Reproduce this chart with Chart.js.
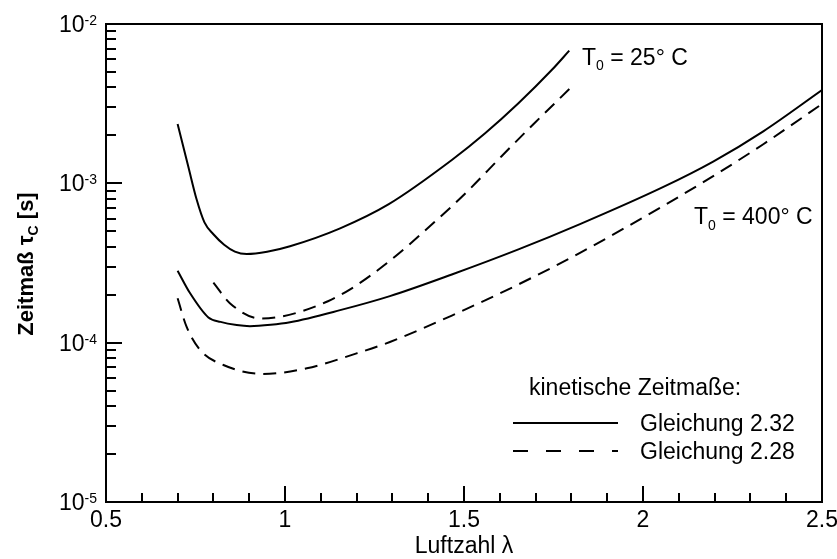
<!DOCTYPE html>
<html>
<head>
<meta charset="utf-8">
<script src="https://cdn.jsdelivr.net/npm/chart.js@4.4.1/dist/chart.umd.min.js"></script>
<style>
  html, body { margin: 0; padding: 0; background: #fff; }
  canvas { display: block; }
</style>
</head>
<body>
<canvas id="chart" width="837" height="559"></canvas>
<script>
// T0 = 25 °C, Gleichung 2.32 (durchgezogen)
const lambda25Gl232 = [0.70, 0.73, 0.753, 0.775, 0.80, 0.83, 0.86, 0.893, 0.95, 1.014, 1.154, 1.29, 1.466, 1.559, 1.652, 1.745, 1.794];
const tau25Gl232    = [2.36e-3, 1.27e-3, 7.94e-4, 5.69e-4, 4.79e-4, 4.12e-4, 3.73e-4, 3.60e-4, 3.72e-4, 4.03e-4, 5.22e-4, 7.4e-4, 1.40e-3, 2.06e-3, 3.18e-3, 5.14e-3, 6.8e-3];

// T0 = 25 °C, Gleichung 2.28 (gestrichelt)
const lambda25Gl228 = [0.80, 0.846, 0.93, 0.99, 1.051, 1.12, 1.182, 1.285, 1.419, 1.512, 1.605, 1.698, 1.796];
const tau25Gl228    = [2.38e-4, 1.77e-4, 1.42e-4, 1.46e-4, 1.585e-4, 1.82e-4, 2.16e-4, 3.16e-4, 5.75e-4, 9.02e-4, 1.48e-3, 2.40e-3, 3.94e-3];

// T0 = 400 °C, Gleichung 2.32
const lambda400Gl232 = [0.70, 0.735, 0.786, 0.82, 0.865, 0.902, 0.96, 1.014, 1.154, 1.293, 1.466, 1.652, 1.824, 2.057, 2.196, 2.336, 2.5];
const tau400Gl232    = [2.83e-4, 2.04e-4, 1.44e-4, 1.35e-4, 1.29e-4, 1.27e-4, 1.294e-4, 1.343e-4, 1.60e-4, 1.96e-4, 2.68e-4, 3.85e-4, 5.55e-4, 9.5e-4, 1.37e-3, 2.12e-3, 3.85e-3];

// T0 = 400 °C, Gleichung 2.28
const lambda400Gl228 = [0.70, 0.725, 0.763, 0.828, 0.939, 1.061, 1.20, 1.293, 1.466, 1.652, 1.824, 2.057, 2.196, 2.336, 2.5];
const tau400Gl228    = [1.90e-4, 1.26e-4, 9.0e-5, 7.24e-5, 6.36e-5, 6.9e-5, 8.57e-5, 1.01e-4, 1.48e-4, 2.32e-4, 3.66e-4, 7.23e-4, 1.11e-3, 1.76e-3, 3.15e-3];

// Achsen
const xTickValues = [0.5, 1, 1.5, 2, 2.5];
const xTickLabels = ['0.5', '1', '1.5', '2', '2.5'];
const yDecades = [-5, -4, -3, -2];

const FONT = '"Liberation Sans", Arial, sans-serif';
const DASH = [13, 8];

const toPoints = (xs, ys) => xs.map((x, i) => ({ x, y: ys[i] }));

const lineStyle = (dashed) => ({
  borderColor: '#000',
  borderWidth: 2,
  borderDash: dashed ? DASH : [],
  pointRadius: 0,
  fill: false,
  cubicInterpolationMode: 'monotone',
});

// Text mit Hoch-/Tiefstellung zeichnen: parts = [{t, size, dy, bold}]
function drawRich(c, parts, x, y) {
  let cx = x;
  for (const p of parts) {
    c.font = `${p.bold ? 'bold ' : ''}${p.size}px ${FONT}`;
    c.fillText(p.t, cx, y + (p.dy || 0));
    cx += c.measureText(p.t).width;
  }
  return cx - x;
}
function richWidth(c, parts) {
  let w = 0;
  for (const p of parts) {
    c.font = `${p.bold ? 'bold ' : ''}${p.size}px ${FONT}`;
    w += c.measureText(p.t).width;
  }
  return w;
}

const framePlugin = {
  id: 'frameAndLabels',
  beforeDraw: (chart) => {
    const c = chart.ctx;
    c.save();
    c.fillStyle = '#fff';
    c.fillRect(0, 0, chart.width, chart.height);
    c.restore();
  },
  afterDraw: (chart) => {
    const c = chart.ctx;
    const { left, right, top, bottom } = chart.chartArea;
    const xs = chart.scales.x;
    const ys = chart.scales.y;

    c.save();
    c.strokeStyle = '#000';
    c.fillStyle = '#000';
    c.lineWidth = 2;
    c.setLineDash([]);
    c.strokeRect(left, top, right - left, bottom - top);

    // y-Ticks (nach innen)
    c.beginPath();
    yDecades.forEach((e) => {
      const yMaj = Math.round(ys.getPixelForValue(Math.pow(10, e)));
      c.moveTo(left, yMaj); c.lineTo(left + 16, yMaj);
      if (e < yDecades[yDecades.length - 1]) {
        for (let k = 2; k <= 9; k++) {
          const yMin = Math.round(ys.getPixelForValue(k * Math.pow(10, e)));
          c.moveTo(left, yMin); c.lineTo(left + 10, yMin);
        }
      }
    });
    // x-Ticks
    const xMin = xTickValues[0], xMax = xTickValues[xTickValues.length - 1];
    for (let i = 0; i <= Math.round((xMax - xMin) / 0.1); i++) {
      const v = xMin + i * 0.1;
      const px = Math.round(xs.getPixelForValue(v));
      const major = xTickValues.some(t => Math.abs(t - v) < 1e-6);
      c.moveTo(px, bottom); c.lineTo(px, bottom - (major ? 16 : 9));
    }
    c.stroke();

    // y-Beschriftung 10^n
    c.textBaseline = 'alphabetic';
    c.textAlign = 'left';
    yDecades.forEach((e) => {
      const y = ys.getPixelForValue(Math.pow(10, e));
      const parts = [{ t: '10', size: 23, dy: 8 }, { t: String(e), size: 14, dy: 1 }];
      const w = richWidth(c, parts);
      drawRich(c, parts, left - 9 - w, y);
    });

    // x-Beschriftung
    c.font = `23px ${FONT}`;
    c.textAlign = 'center';
    xTickValues.forEach((v, i) => {
      c.fillText(xTickLabels[i], xs.getPixelForValue(v), bottom + 25);
    });
    c.fillText('Luftzahl λ', (left + right) / 2, 553);

    // y-Achsentitel
    c.save();
    c.translate(33, (top + bottom) / 2 + 1);
    c.rotate(-Math.PI / 2);
    c.textAlign = 'left';
    const title = [
      { t: 'Zeitmaß τ', size: 22, bold: true },
      { t: 'C', size: 14, dy: 5, bold: true },
      { t: ' [s]', size: 22, bold: true },
    ];
    drawRich(c, title, -richWidth(c, title) / 2, 0);
    c.restore();

    // Kurvenbeschriftungen
    c.textAlign = 'left';
    drawRich(c, [{ t: 'T', size: 23 }, { t: '0', size: 14, dy: 5 }, { t: ' = 25° C', size: 23 }], 582, 65);
    drawRich(c, [{ t: 'T', size: 23 }, { t: '0', size: 14, dy: 6 }, { t: ' = 400° C', size: 23 }], 694, 224);

    // Legende
    c.font = `23px ${FONT}`;
    c.fillText('kinetische Zeitmaße:', 529, 395);
    c.fillText('Gleichung 2.32', 640, 431);
    c.fillText('Gleichung 2.28', 640, 459);
    c.beginPath();
    c.moveTo(513, 423); c.lineTo(618, 423);
    c.stroke();
    c.setLineDash([15, 18]);
    c.beginPath();
    c.moveTo(513, 451); c.lineTo(618, 451);
    c.stroke();

    c.restore();
  }
};

new Chart(document.getElementById('chart').getContext('2d'), {
  type: 'line',
  data: {
    datasets: [
      { label: 'T0 = 25° C, Gleichung 2.32', data: toPoints(lambda25Gl232, tau25Gl232), ...lineStyle(false) },
      { label: 'T0 = 25° C, Gleichung 2.28', data: toPoints(lambda25Gl228, tau25Gl228), ...lineStyle(true) },
      { label: 'T0 = 400° C, Gleichung 2.32', data: toPoints(lambda400Gl232, tau400Gl232), ...lineStyle(false) },
      { label: 'T0 = 400° C, Gleichung 2.28', data: toPoints(lambda400Gl228, tau400Gl228), ...lineStyle(true) },
    ]
  },
  options: {
    responsive: false,
    animation: false,
    devicePixelRatio: 1,
    layout: { padding: { left: 106, top: 24, right: 15, bottom: 57 } },
    scales: {
      x: { type: 'linear', min: 0.5, max: 2.5, display: false },
      y: { type: 'logarithmic', min: 1e-5, max: 1e-2, display: false },
    },
    plugins: {
      legend: { display: false },
      tooltip: { enabled: false },
    },
  },
  plugins: [framePlugin],
});
</script>
</body>
</html>
